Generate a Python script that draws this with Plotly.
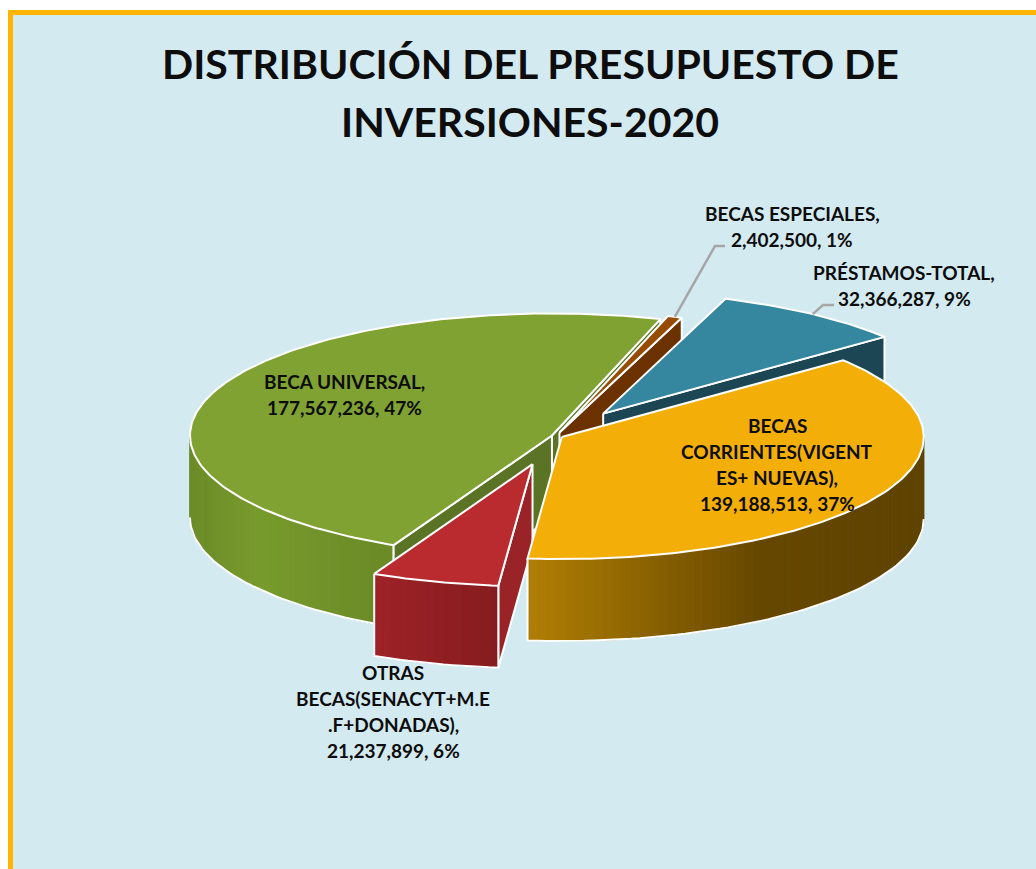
import numpy as np
import plotly.graph_objects as go

# chart values, clockwise from the top-right slice
CATEGORIES = [
    "BECAS<br>CORRIENTES(VIGENT<br>ES+ NUEVAS)",
    "OTRAS<br>BECAS(SENACYT+M.E<br>.F+DONADAS)",
    "BECA UNIVERSAL",
    "BECAS ESPECIALES",
    "PRÉSTAMOS-TOTAL",
]
VALUES = [139188513, 21237899, 177567236, 2402500, 32366287]
PERCENTS = [37, 6, 47, 1, 9]
TITLE_LINES = ["DISTRIBUCIÓN DEL PRESUPUESTO DE", "INVERSIONES-2020"]

# pie look
START_ANGLE = 51
CX, CY = 556, 436
RX, RY = 362, 122
DEPTH = 82
EXPLODE = [0.018, 0.24, 0.012, 0.03, 0.225]
TOP_COLORS = ["#F3AF08", "#B92B2F", "#80A232", "#964B00", "#35879F"]
CUT_COLORS = [None, "#9A2327", "#5A7324", "#6B3200", "#1C4653"]
# side wall gradients, as (screen x, colour) stops
WALL_STOPS = [
    [(527, "#B17F06"), (650, "#8A6200"), (760, "#664800"), (922, "#5F4300")],
    [(375, "#9E2327"), (500, "#851C1F")],
    [(190, "#6C8C28"), (260, "#789B2D"), (380, "#6B8B27")],
    None,
    None,
]
LABEL_POS = [(777, 425), (393, 672), (344, 381), (792, 213), (904, 272)]
FONT = "Lato"

total = sum(VALUES)
spans = [v / total * 360 for v in VALUES]
starts = START_ANGLE + np.concatenate([[0], np.cumsum(spans)[:-1]])


def hex_rgb(c):
    return np.array([int(c[i:i + 2], 16) for i in (1, 3, 5)], dtype=float)


def wall_color(stops, x):
    xs = [s[0] for s in stops]
    rgb = [np.interp(x, xs, [hex_rgb(s[1])[k] for s in stops]) for k in range(3)]
    return "rgb(%d,%d,%d)" % tuple(rgb)


def apex(i):
    mid = np.radians(starts[i] + spans[i] / 2)
    return CX + EXPLODE[i] * RX * np.sin(mid), CY - EXPLODE[i] * RY * np.cos(mid)


def rim(i, deg):
    ax, ay = apex(i)
    t = np.radians(deg)
    return ax + RX * np.sin(t), ay - RY * np.cos(t)


def poly(fig, xs, ys, fill, line="white", width=2):
    fig.add_trace(go.Scatter(
        x=list(xs) + [xs[0]], y=list(ys) + [ys[0]],
        mode="lines", fill="toself", fillcolor=fill,
        line=dict(color=line, width=width),
        hoverinfo="skip", showlegend=False,
    ))


def draw_cut(fig, i, deg):
    ax, ay = apex(i)
    rx_, ry_ = rim(i, deg)
    poly(fig, [ax, rx_, rx_, ax], [ay, ry_, ry_ + DEPTH, ay + DEPTH], CUT_COLORS[i])


def draw_wall(fig, i):
    # only the part of the rim that faces the viewer
    a0 = max(starts[i], 90)
    a1 = min(starts[i] + spans[i], 270)
    if a1 <= a0:
        return
    angles = np.linspace(a0, a1, int((a1 - a0) / 1.5) + 2)
    pts = [rim(i, a) for a in angles]
    for (x0, y0), (x1, y1) in zip(pts[:-1], pts[1:]):
        c = wall_color(WALL_STOPS[i], (x0 + x1) / 2)
        poly(fig, [x0, x1, x1, x0], [y0, y1, y1 + DEPTH, y0 + DEPTH], c, line=c, width=1)
    xs = [p[0] for p in pts]
    ys = [p[1] for p in pts]
    # white edges of the wall, none on the silhouette sides
    edge_x = xs.copy()
    edge_y = [y + DEPTH for y in ys]
    if a0 > 90:
        edge_x = [xs[0]] + edge_x
        edge_y = [ys[0]] + edge_y
    if a1 < 270:
        edge_x = edge_x + [xs[-1]]
        edge_y = edge_y + [ys[-1]]
    fig.add_trace(go.Scatter(
        x=edge_x, y=edge_y,
        mode="lines", line=dict(color="white", width=2),
        hoverinfo="skip", showlegend=False,
    ))


def draw_top(fig, i):
    ax, ay = apex(i)
    angles = np.linspace(starts[i], starts[i] + spans[i], max(int(spans[i]), 4))
    pts = [rim(i, a) for a in angles]
    poly(fig, [ax] + [p[0] for p in pts], [ay] + [p[1] for p in pts], TOP_COLORS[i])


fig = go.Figure()

# panel with its orange border on the top and left
fig.add_shape(type="rect", x0=8, y0=10, x1=1040, y1=875, layer="below",
              fillcolor="#FFB500", line_width=0)
fig.add_shape(type="rect", x0=13, y0=15, x1=1040, y1=875, layer="below",
              fillcolor="#D4EAF1", line_width=0)

# back to front: universal, especiales, prestamos, otras, corrientes
draw_wall(fig, 2)
draw_cut(fig, 2, starts[2])
draw_cut(fig, 2, starts[2] + spans[2])
draw_top(fig, 2)

draw_cut(fig, 3, starts[3] + spans[3])
draw_top(fig, 3)

draw_cut(fig, 4, starts[4] + spans[4])
draw_top(fig, 4)

draw_cut(fig, 1, starts[1])
draw_wall(fig, 1)
draw_top(fig, 1)

draw_wall(fig, 0)
draw_top(fig, 0)

# leader lines
for i, elbow in ((3, [(715, 246), (725, 246)]), (4, [(823, 305), (834, 305)])):
    x0, y0 = rim(i, starts[i] + spans[i] / 2)
    fig.add_trace(go.Scatter(
        x=[x0] + [p[0] for p in elbow], y=[y0] + [p[1] for p in elbow],
        mode="lines", line=dict(color="#A6A6A6", width=2.5),
        hoverinfo="skip", showlegend=False,
    ))

annotations = []
for i, line in enumerate(TITLE_LINES):
    annotations.append(dict(x=530, y=63 + i * 58, text=f"<b>{line}</b>", showarrow=False,
                            font=dict(family=FONT, size=41, color="#0D0D0D")))
for cat, val, pct, (lx, ly) in zip(CATEGORIES, VALUES, PERCENTS, LABEL_POS):
    lines = f"{cat},<br>{val:,}, {pct}%".split("<br>")
    for j, line in enumerate(lines):
        annotations.append(dict(x=lx, y=ly + j * 26, text=f"<b>{line}</b>", showarrow=False,
                                font=dict(family=FONT, size=19, color="#0D0D0D")))

fig.update_layout(
    width=1036,
    height=869,
    margin=dict(l=0, r=0, t=0, b=0),
    paper_bgcolor="white",
    plot_bgcolor="white",
    showlegend=False,
    annotations=annotations,
    xaxis=dict(range=[0, 1036], visible=False, fixedrange=True),
    yaxis=dict(range=[869, 0], visible=False, fixedrange=True),
)

fig.write_html("out.html", config={"displayModeBar": False},
               post_script="document.body.style.margin='0';document.body.style.overflow='hidden';")
